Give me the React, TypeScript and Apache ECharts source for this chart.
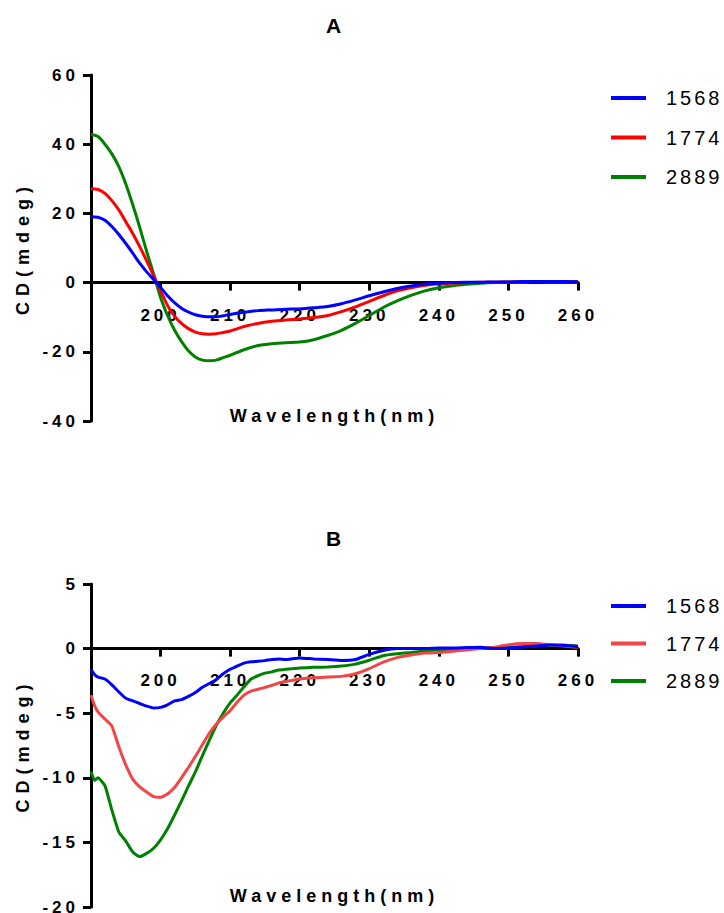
import React, { useEffect, useRef } from 'react';
import * as echarts from 'echarts';

// ---------- Panel A data ----------
const wavelengthsA = [190, 191, 192, 193, 194, 195, 196, 197, 198, 199, 200, 201, 202, 203, 204, 205, 206, 207, 208, 209, 210, 212, 214, 216, 218, 220, 222, 224, 226, 228, 230, 232, 234, 236, 238, 240, 242, 244, 246, 248, 250, 252, 254, 256, 258, 260];
const cd1568A = [19.0, 18.9, 18.0, 16.2, 13.9, 11.3, 8.5, 5.6, 3.1, 0.9, -1.4, -3.8, -5.8, -7.4, -8.5, -9.3, -9.7, -9.9, -9.9, -9.6, -9.2, -8.6, -8.1, -7.9, -7.7, -7.6, -7.3, -6.9, -6.1, -5.0, -3.8, -2.7, -1.7, -1.0, -0.5, -0.2, 0.0, 0.1, 0.1, 0.2, 0.2, 0.3, 0.3, 0.3, 0.3, 0.2];
const cd1774A = [27.1, 26.9, 25.8, 23.7, 21.0, 17.6, 14.2, 10.4, 6.3, 2.0, -2.3, -6.6, -9.7, -11.8, -13.3, -14.3, -14.8, -14.9, -14.8, -14.4, -14.0, -12.7, -11.8, -11.2, -10.8, -10.5, -10.1, -9.5, -8.4, -7.0, -5.4, -3.8, -2.4, -1.5, -0.8, -0.4, -0.1, 0.0, 0.1, 0.1, 0.2, 0.2, 0.3, 0.2, 0.2, 0.2];
const cd2889A = [42.9, 42.2, 40.0, 37.2, 33.5, 28.5, 22.5, 16.0, 9.0, 2.5, -4.3, -9.5, -13.7, -17.0, -19.7, -21.5, -22.4, -22.6, -22.4, -21.7, -21.0, -19.4, -18.2, -17.7, -17.4, -17.2, -16.5, -15.3, -13.8, -11.8, -9.5, -7.2, -5.3, -3.7, -2.4, -1.5, -0.9, -0.5, -0.2, 0.0, 0.1, 0.2, 0.3, 0.3, 0.3, 0.3];

// ---------- Panel B data ----------
const wavelengthsB = [190, 190.5, 191, 192, 193, 194, 195, 196, 197, 198, 199, 200, 201, 202, 203, 204, 205, 206, 207, 208, 209, 210, 211, 212, 213, 214, 215, 216, 217, 218, 219, 220, 222, 224, 226, 228, 230, 232, 234, 236, 238, 240, 242, 244, 246, 248, 250, 252, 254, 256, 258, 260];
const cd1568B = [-1.6, -2.0, -2.2, -2.35, -2.8, -3.35, -3.85, -4.05, -4.25, -4.45, -4.6, -4.55, -4.35, -4.05, -3.95, -3.7, -3.4, -3.0, -2.7, -2.4, -1.95, -1.6, -1.35, -1.12, -1.02, -0.98, -0.93, -0.85, -0.8, -0.85, -0.78, -0.72, -0.8, -0.85, -0.92, -0.85, -0.45, -0.15, 0.0, 0.0, 0.0, 0.05, 0.05, 0.08, 0.1, 0.0, 0.05, 0.12, 0.2, 0.28, 0.25, 0.15];
const cd1774B = [-3.6, -4.4, -4.9, -5.45, -6.0, -7.6, -9.0, -10.1, -10.7, -11.1, -11.45, -11.5, -11.25, -10.75, -10.0, -9.2, -8.35, -7.45, -6.55, -5.85, -5.3, -4.8, -4.15, -3.6, -3.3, -3.15, -3.0, -2.85, -2.65, -2.55, -2.45, -2.35, -2.25, -2.2, -2.15, -1.95, -1.55, -1.05, -0.7, -0.5, -0.35, -0.3, -0.2, -0.1, 0.0, 0.1, 0.3, 0.4, 0.4, 0.3, 0.2, 0.1];
const cd2889B = [-9.5, -10.2, -10.0, -10.6, -12.5, -14.2, -14.9, -15.75, -16.1, -15.85, -15.45, -14.8, -13.95, -12.9, -11.8, -10.65, -9.55, -8.3, -7.1, -5.95, -5.0, -4.2, -3.6, -2.95, -2.35, -2.1, -1.9, -1.8, -1.65, -1.6, -1.55, -1.5, -1.45, -1.42, -1.35, -1.2, -0.9, -0.55, -0.4, -0.3, -0.17, -0.08, -0.05, 0.0, 0.05, 0.05, 0.1, 0.15, 0.2, 0.25, 0.25, 0.2];

const seriesNames = ['1568', '1774', '2889'];
const colorsA = ['#0000ff', '#ff0000', '#008000'];
const colorsB = ['#0000ff', '#f24545', '#008000'];

const FONT = "'Liberation Sans', Arial, sans-serif";

interface PanelCfg {
  title: string;
  titleTop: number;
  xs: number[];
  ys: number[][];
  colors: string[];
  yMin: number;
  yMax: number;
  yInterval: number;
  height: number;
  grid: { top: number; bottom: number };
  labelMargin: number;
  xNameGap: number;
  legendTop: number;
  legendGap: number;
  smooth: number | boolean;
}

function buildOption(p: PanelCfg) {
  const axisLine = { lineStyle: { color: '#000', width: 3 } };
  const axisTick = { length: 8, lineStyle: { color: '#000', width: 3 } };
  const labelStyle = { color: '#000', fontSize: 17, fontWeight: 'bold', fontFamily: FONT };
  const order = [2, 1, 0];
  // place the x axis on y = 0 (axis, ticks, labels and name together)
  const gridHeight = p.height - p.grid.top - p.grid.bottom;
  const zeroOffset = -gridHeight * (0 - p.yMin) / (p.yMax - p.yMin);
  return {
    animation: false,
    title: {
      text: p.title,
      left: 333.5,
      top: p.titleTop,
      padding: 0,
      textAlign: 'center',
      textStyle: { fontSize: 21, fontWeight: 'bold', color: '#000', fontFamily: FONT },
    },
    grid: { left: 91, right: 146, top: p.grid.top, bottom: p.grid.bottom, containLabel: false, outerBoundsMode: 'none' },
    legend: {
      orient: 'vertical',
      left: 611,
      top: p.legendTop,
      padding: 0,
      itemWidth: 35,
      itemHeight: 4,
      itemGap: p.legendGap,
      icon: 'rect',
      data: seriesNames,
      textStyle: { fontSize: 20, color: '#000', fontFamily: FONT, padding: [0, 0, 0, 15] },
    },
    xAxis: {
      type: 'value',
      min: 190,
      max: 260,
      interval: 10,
      offset: zeroOffset,
      axisLine: { ...axisLine, onZero: false },
      axisTick,
      splitLine: { show: false },
      axisLabel: {
        ...labelStyle,
        margin: p.labelMargin,
        formatter: (v: number) => (v === 190 ? '' : String(v)),
      },
      name: 'Wavelength(nm)',
      nameLocation: 'middle',
      nameGap: p.xNameGap,
      nameTextStyle: { color: '#000', fontSize: 18, fontWeight: 'bold', fontFamily: FONT },
    },
    yAxis: {
      type: 'value',
      min: p.yMin,
      max: p.yMax,
      interval: p.yInterval,
      axisLine: { ...axisLine, onZero: false },
      axisTick,
      splitLine: { show: false },
      axisLabel: { ...labelStyle, margin: 12 },
      name: 'CD(mdeg)',
      nameLocation: 'middle',
      nameGap: 59,
      nameTextStyle: { color: '#000', fontSize: 18, fontWeight: 'bold', fontFamily: FONT },
    },
    series: order.map((i) => ({
      name: seriesNames[i],
      type: 'line',
      data: p.xs.map((x, k) => [x, p.ys[i][k]]),
      showSymbol: false,
      symbol: 'none',
      smooth: p.smooth,
      color: p.colors[i],
      itemStyle: { color: p.colors[i] },
      lineStyle: { color: p.colors[i], width: 3 },
    })),
  };
}

function applySpacing(el: HTMLElement) {
  el.querySelectorAll('text').forEach((t) => {
    const s = (t.textContent || '').trim();
    let ls = '4px';
    if (s === 'Wavelength(nm)') ls = '5px';
    else if (s === 'CD(mdeg)') ls = '6px';
    else if (/^\d{4}$/.test(s)) ls = '3px';
    else if (s === 'A' || s === 'B') ls = '0px';
    (t as SVGTextElement).style.letterSpacing = ls;
  });
}

const panelA: PanelCfg = {
  title: 'A',
  titleTop: 14.5,
  xs: wavelengthsA,
  ys: [cd1568A, cd1774A, cd2889A],
  colors: colorsA,
  yMin: -40,
  yMax: 60,
  yInterval: 20,
  height: 456,
  grid: { top: 75, bottom: 35 },
  labelMargin: 24,
  xNameGap: 124,
  legendTop: 88,
  legendGap: 19.5,
  smooth: 0.3,
};

const panelB: PanelCfg = {
  title: 'B',
  titleTop: 72,
  xs: wavelengthsB,
  ys: [cd1568B, cd1774B, cd2889B],
  colors: colorsB,
  yMin: -20,
  yMax: 5,
  yInterval: 5,
  height: 457,
  grid: { top: 128, bottom: 6 },
  labelMargin: 23,
  xNameGap: 238,
  legendTop: 140,
  legendGap: 17.5,
  smooth: 0.15,
};

function Panel({ cfg, top }: { cfg: PanelCfg; top: number }) {
  const ref = useRef<HTMLDivElement>(null);
  useEffect(() => {
    if (!ref.current) return;
    const el = ref.current;
    const chart = echarts.init(el, null, { renderer: 'svg' });
    chart.setOption(buildOption(cfg) as any);
    applySpacing(el);
    chart.on('finished', () => applySpacing(el));
    return () => chart.dispose();
  }, [cfg]);
  return (
    <div
      ref={ref}
      style={{ position: 'absolute', left: 0, top, width: 724, height: cfg.height }}
    />
  );
}

export default function App() {
  return (
    <div style={{ position: 'absolute', left: 0, top: 0, width: 724, height: 913, background: '#fff' }}>
      <Panel cfg={panelA} top={0} />
      <Panel cfg={panelB} top={456} />
    </div>
  );
}
